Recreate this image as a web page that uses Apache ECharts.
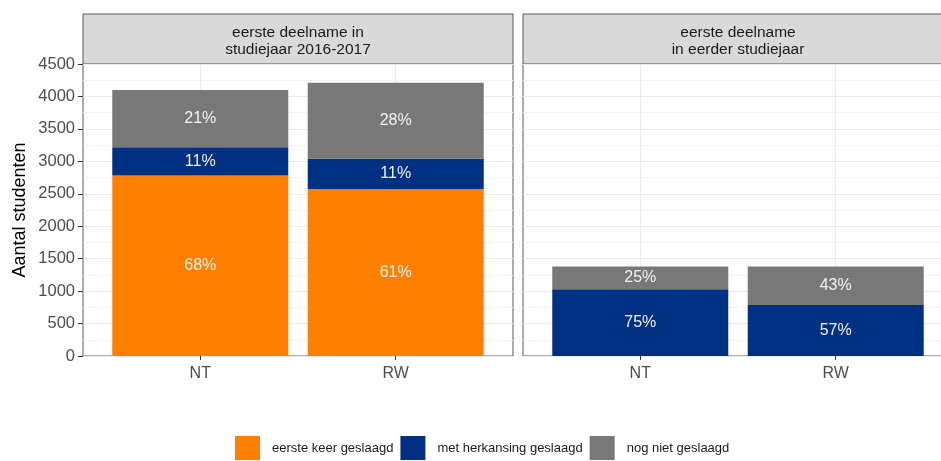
<!DOCTYPE html>
<html>
<head>
<meta charset="utf-8">
<script src="https://cdn.jsdelivr.net/npm/echarts@6/dist/echarts.min.js"></script>
<style>
  html, body { margin: 0; padding: 0; background: #fff; }
  #chart { width: 941px; height: 461px; }
</style>
</head>
<body>
<div id="chart"></div>
<script>
const categories = ['NT', 'RW'];
const panelTitles = ['eerste deelname in\nstudiejaar 2016-2017', 'eerste deelname\nin eerder studiejaar'];
const seriesNames = ['eerste keer geslaagd', 'met herkansing geslaagd', 'nog niet geslaagd'];

// linker paneel: eerste deelname in 2016-2017
const leftFirst = [2780, 2575];
const leftResit = [438, 463];
const leftNotYet = [880, 1174];
const leftFirstPct = ['68%', '61%'];
const leftResitPct = ['11%', '11%'];
const leftNotYetPct = ['21%', '28%'];

// rechter paneel: eerste deelname in eerder studiejaar
const rightResit = [1030, 785];
const rightNotYet = [350, 595];
const rightResitPct = ['75%', '57%'];
const rightNotYetPct = ['25%', '43%'];

const COLORS = ['#ff8000', '#003082', '#787878'];
const FONT = '"Liberation Sans", Arial, sans-serif';
const BORDER = '#595959';

const chart = echarts.init(document.getElementById('chart'));

function xAxisFor(gridIndex) {
  return {
    type: 'value',
    gridIndex,
    min: 0.4,
    max: 2.6,
    axisLine: { show: false },
    axisTick: { show: true, customValues: [1, 2], length: 4, lineStyle: { color: '#333' } },
    axisLabel: {
      customValues: [1, 2],
      color: '#4d4d4d',
      fontSize: 16,
      fontFamily: FONT,
      margin: 10,
      formatter: (v) => categories[Math.round(v) - 1] || ''
    },
    splitLine: { show: true, lineStyle: { color: '#ebebeb', width: 1 } }
  };
}

function yAxisFor(gridIndex, showLabels) {
  return {
    type: 'value',
    gridIndex,
    min: 0,
    max: 4500,
    interval: 500,
    name: showLabels ? 'Aantal studenten' : '',
    nameLocation: 'middle',
    nameGap: 54,
    nameTextStyle: { color: '#000', fontSize: 18, fontFamily: FONT },
    axisLine: { show: false },
    axisTick: { show: showLabels, length: 5, lineStyle: { color: '#333' } },
    axisLabel: {
      show: showLabels,
      color: '#4d4d4d',
      fontSize: 16.5,
      fontFamily: FONT,
      margin: 8,
      formatter: (v) => String(v)
    },
    splitLine: { show: true, lineStyle: { color: '#ebebeb', width: 1 } },
    minorTick: { show: false, splitNumber: 2 },
    minorSplitLine: { show: true, lineStyle: { color: '#f4f4f4', width: 1 } }
  };
}

// waarde eerst in de data, zodat de stapeling op de y-as gebeurt
function barSeries(name, idx, values, labels, gridIdx) {
  return {
    name,
    type: 'bar',
    stack: 'panel' + gridIdx,
    xAxisIndex: gridIdx,
    yAxisIndex: gridIdx,
    barWidth: 176,
    encode: { x: 1, y: 0 },
    itemStyle: { color: COLORS[idx] },
    label: {
      show: true,
      position: 'inside',
      color: '#f2f2f2',
      fontSize: 16,
      fontFamily: FONT,
      formatter: (p) => labels[p.dataIndex]
    },
    data: values.map((v, i) => [v, i + 1])
  };
}

function strip(x, text) {
  return {
    type: 'group',
    children: [
      {
        type: 'rect',
        shape: { x, y: 14, width: 430, height: 50 },
        style: { fill: '#d9d9d9', stroke: BORDER, lineWidth: 1 }
      },
      {
        type: 'text',
        x: x + 215,
        y: 41,
        style: {
          text,
          fill: '#1a1a1a',
          font: '15.5px ' + FONT,
          align: 'center',
          verticalAlign: 'middle',
          lineHeight: 17
        }
      }
    ]
  };
}

chart.setOption({
  animation: false,
  grid: [
    { left: 83, top: 64, width: 430, height: 292, outerBoundsMode: 'none', show: true, borderColor: BORDER, borderWidth: 1, backgroundColor: 'transparent' },
    { left: 523, top: 64, width: 430, height: 292, outerBoundsMode: 'none', show: true, borderColor: BORDER, borderWidth: 1, backgroundColor: 'transparent' }
  ],
  xAxis: [xAxisFor(0), xAxisFor(1)],
  yAxis: [yAxisFor(0, true), yAxisFor(1, false)],
  legend: {
    data: seriesNames,
    bottom: -4,
    left: 230,
    icon: 'rect',
    itemWidth: 25,
    itemHeight: 24,
    itemGap: 7,
    textStyle: { color: '#1a1a1a', fontSize: 13, fontFamily: FONT, padding: [0, 0, 0, 7] },
    selectedMode: false
  },
  graphic: [strip(83, panelTitles[0]), strip(523, panelTitles[1])],
  series: [
    barSeries(seriesNames[0], 0, leftFirst, leftFirstPct, 0),
    barSeries(seriesNames[1], 1, leftResit, leftResitPct, 0),
    barSeries(seriesNames[2], 2, leftNotYet, leftNotYetPct, 0),
    barSeries(seriesNames[1], 1, rightResit, rightResitPct, 1),
    barSeries(seriesNames[2], 2, rightNotYet, rightNotYetPct, 1)
  ]
});
</script>
</body>
</html>
